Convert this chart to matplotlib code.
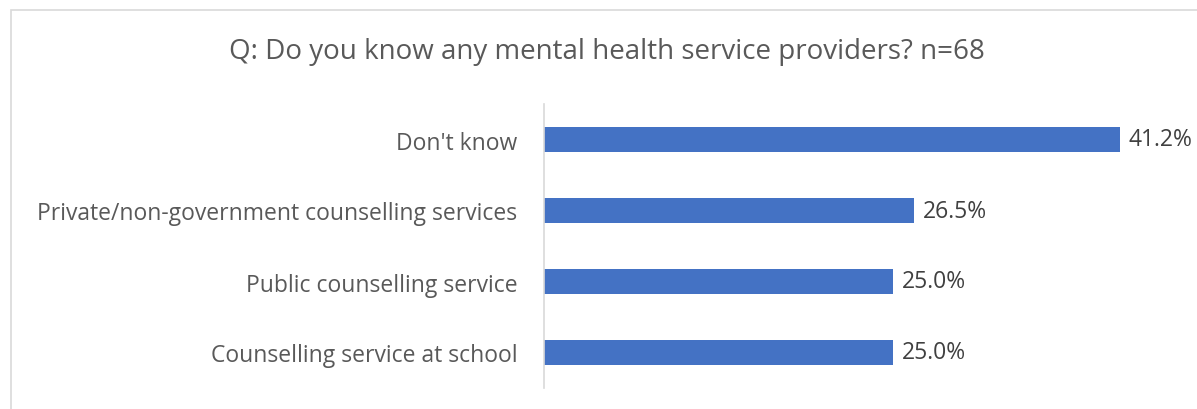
import matplotlib.pyplot as plt
from matplotlib.patches import Rectangle

categories = ["Counselling service at school",
              "Public counselling service",
              "Private/non-government counselling services",
              "Don't know"]
values = [25.0, 25.0, 26.5, 41.2]

W, H = 1197, 410
fig = plt.figure(figsize=(W / 100, H / 100), dpi=100)
plt.rcParams['font.family'] = ['Open Sans', 'DejaVu Sans']

# chart frame
fig.patches.append(Rectangle((11 / W, -0.1), 1.2, (H - 11) / H + 0.1,
                             transform=fig.transFigure, fill=False,
                             edgecolor='#D9D9D9', linewidth=1.2))

ax = fig.add_axes([544 / W, 21 / H, 629 / W, 284 / H])
ax.barh(range(len(categories)), values, height=0.36, color='#4472C4')
ax.set_xlim(0, 45)
ax.set_ylim(-0.5, len(categories) - 0.5)
ax.set_yticks(range(len(categories)))
ax.set_yticklabels(categories, fontsize=16.5, color='#595959')
ax.tick_params(axis='y', length=0, pad=19)
ax.set_xticks([])
for s in ['top', 'right', 'bottom']:
    ax.spines[s].set_visible(False)
ax.spines['left'].set_color('#D9D9D9')
ax.spines['left'].set_linewidth(1.2)

for i, v in enumerate(values):
    ax.text(v + 0.6, i, f"{v:.1f}%", va='center', ha='left',
            fontsize=16.5, color='#404040')

fig.text(607 / W, 1 - 52 / H, "Q: Do you know any mental health service providers? n=68",
         ha='center', va='center', fontsize=20, color='#595959')

fig.savefig('out.png', dpi=100)
